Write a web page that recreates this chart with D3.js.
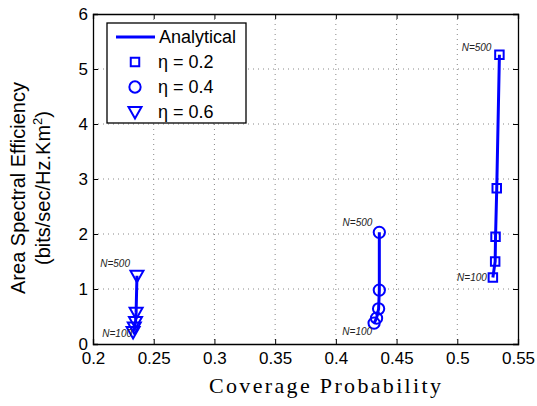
<html>
<head>
<script src="https://d3js.org/d3.v7.min.js"></script>
<style>
  body { margin: 0; background: #fff; }
  svg text { font-family: "Liberation Sans", Arial, sans-serif; }
</style>
</head>
<body>
<div id="chart"></div>
<script>
// series, N = 100 .. 500
var nLabels = ["N=100", "N=200", "N=300", "N=400", "N=500"];
var eta02x = [0.5293, 0.5312, 0.5315, 0.5325, 0.5347];
var eta02y = [1.21, 1.50, 1.95, 2.83, 5.26];
var eta04x = [0.4315, 0.4335, 0.4352, 0.4358, 0.4358];
var eta04y = [0.38, 0.47, 0.64, 0.98, 2.03];
var eta06x = [0.2330, 0.2340, 0.2350, 0.2355, 0.2362];
var eta06y = [0.22, 0.30, 0.40, 0.57, 1.24];
var xTicks = [0.2, 0.25, 0.3, 0.35, 0.4, 0.45, 0.5, 0.55];
var yTicks = [0, 1, 2, 3, 4, 5, 6];

var width = 537, height = 406;
var mLeft = 93, mRight = 518, mTop = 14, mBottom = 344;

var x = d3.scaleLinear().domain([0.2, 0.55]).range([mLeft, mRight]);
var y = d3.scaleLinear().domain([0, 6]).range([mBottom, mTop]);

var svg = d3.select("#chart").append("svg")
  .attr("width", width).attr("height", height);

// dotted grid
svg.append("g").selectAll("line").data(xTicks.slice(1, -1)).enter().append("line")
  .attr("x1", function(d) { return x(d); }).attr("x2", function(d) { return x(d); })
  .attr("y1", mTop).attr("y2", mBottom)
  .attr("stroke", "#888").attr("stroke-width", 1).attr("stroke-dasharray", "1,4");
svg.append("g").selectAll("line").data(yTicks.slice(1, -1)).enter().append("line")
  .attr("y1", function(d) { return y(d); }).attr("y2", function(d) { return y(d); })
  .attr("x1", mLeft).attr("x2", mRight)
  .attr("stroke", "#888").attr("stroke-width", 1).attr("stroke-dasharray", "1,4");

// axes, ticks pointing inwards on all four sides
var fmt = function(d) { return String(+d.toFixed(2)); };
var xb = svg.append("g").attr("transform", "translate(0," + mBottom + ")")
  .call(d3.axisBottom(x).tickValues(xTicks).tickSize(-5).tickPadding(4).tickFormat(fmt));
var xt = svg.append("g").attr("transform", "translate(0," + mTop + ")")
  .call(d3.axisTop(x).tickValues(xTicks).tickSize(-5).tickFormat(""));
var yl = svg.append("g").attr("transform", "translate(" + mLeft + ",0)")
  .call(d3.axisLeft(y).tickValues(yTicks).tickSize(-5).tickPadding(5).tickFormat(fmt));
var yr = svg.append("g").attr("transform", "translate(" + mRight + ",0)")
  .call(d3.axisRight(y).tickValues(yTicks).tickSize(-5).tickFormat(""));
[xb, xt, yl, yr].forEach(function(g) {
  g.attr("font-size", null).attr("font-family", null);
  g.select(".domain").attr("stroke", "#000").attr("stroke-width", 1.3);
  g.selectAll(".tick line").attr("stroke", "#000");
  g.selectAll(".tick text").attr("fill", "#000").style("font-size", "17px");
});
xb.selectAll(".tick text").attr("dy", "0.95em");

// series
var blue = "#0000ff";
var series = [
  { xs: eta02x, ys: eta02y, shape: d3.symbolSquare, size: 72, hi: [-8, -4], lo: [-6, 4] },
  { xs: eta04x, ys: eta04y, shape: d3.symbolCircle, size: 100, hi: [-7, -6], lo: [-2, 12] },
  { xs: eta06x, ys: eta06y, shape: "tri", size: 0, hi: [-7, -9], lo: [-1, 5] }
];
var line = d3.line().x(function(d) { return x(d[0]); }).y(function(d) { return y(d[1]); });

function drawMarker(g, shape, size) {
  if (shape === "tri") {
    g.append("path").attr("d", "M-6.5,-5L6.5,-5L0,6.5Z");
  } else {
    g.append("path").attr("d", d3.symbol().type(shape).size(size)());
  }
  g.selectAll("path").attr("fill", "none").attr("stroke", blue).attr("stroke-width", 2);
}

series.forEach(function(s) {
  var pts = s.xs.map(function(v, i) { return [v, s.ys[i]]; });
  svg.append("path").datum(pts).attr("d", line)
    .attr("fill", "none").attr("stroke", blue).attr("stroke-width", 3);
  pts.forEach(function(p) {
    var g = svg.append("g").attr("transform", "translate(" + x(p[0]) + "," + y(p[1]) + ")");
    drawMarker(g, s.shape, s.size);
  });
  // N labels at first and last point
  var first = pts[0], last = pts[pts.length - 1];
  svg.append("text").attr("x", x(last[0]) + s.hi[0]).attr("y", y(last[1]) + s.hi[1])
    .attr("text-anchor", "end").style("font-size", "10px").style("font-style", "italic")
    .attr("fill", "#222").text(nLabels[nLabels.length - 1]);
  svg.append("text").attr("x", x(first[0]) + s.lo[0]).attr("y", y(first[1]) + s.lo[1])
    .attr("text-anchor", "end").style("font-size", "10px").style("font-style", "italic")
    .attr("fill", "#222").text(nLabels[0]);
});

// legend
var lg = svg.append("g");
lg.append("rect").attr("x", 107).attr("y", 23).attr("width", 139).attr("height", 100)
  .attr("fill", "#fff").attr("stroke", "#000").attr("stroke-width", 1.3);
lg.append("line").attr("x1", 116).attr("x2", 155).attr("y1", 37).attr("y2", 37)
  .attr("stroke", blue).attr("stroke-width", 3);
lg.append("text").attr("x", 159).attr("y", 37).attr("dy", "0.36em")
  .style("font-size", "18px").text("Analytical");
var legendItems = ["\u03b7 = 0.2", "\u03b7 = 0.4", "\u03b7 = 0.6"];
legendItems.forEach(function(t, i) {
  var yy = 62 + i * 25;
  var g = lg.append("g").attr("transform", "translate(135," + yy + ")");
  drawMarker(g, series[i].shape, series[i].size);
  lg.append("text").attr("x", 158).attr("y", yy).attr("dy", "0.36em")
    .style("font-size", "18px").text(t);
});

// axis titles
svg.append("text").attr("x", 325).attr("y", 393).attr("text-anchor", "middle")
  .style("font-family", "'Liberation Serif', serif").style("font-size", "22px")
  .attr("textLength", 232).attr("lengthAdjust", "spacing")
  .text("Coverage Probability");

var yt = svg.append("text").attr("transform", "translate(25,188) rotate(-90)")
  .attr("text-anchor", "middle").style("font-size", "20px");
yt.append("tspan").attr("x", 0).attr("y", 0).text("Area Spectral Efficiency");
yt.append("tspan").attr("x", 0).attr("y", 25).text("(bits/sec/Hz.Km");
yt.append("tspan").attr("dy", -8).style("font-size", "13px").text("2");
yt.append("tspan").attr("dy", 8).text(")");
</script>
</body>
</html>
